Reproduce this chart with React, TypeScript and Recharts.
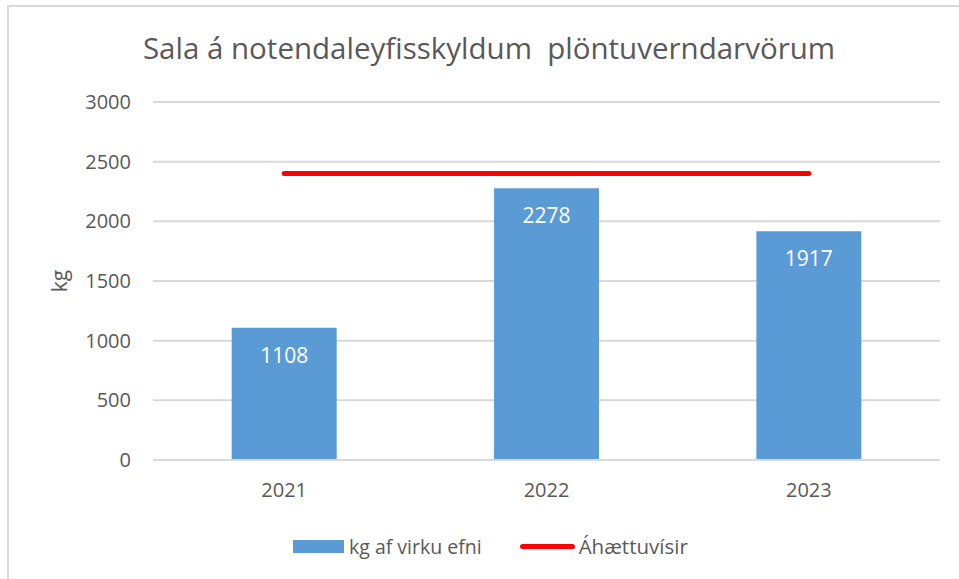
// App.tsx - Sala á notendaleyfisskyldum plöntuverndarvörum

import { ComposedChart, Bar, Line, XAxis, YAxis, CartesianGrid, LabelList } from 'recharts';

const years = ['2021', '2022', '2023'];
const activeKg = [1108, 2278, 1917];
const riskIndicator = [2400, 2400, 2400];
const yTicks = [0, 500, 1000, 1500, 2000, 2500, 3000];

const TEXT = '#595959';
const GRID = '#d9d9d9';
const BLUE = '#5b9bd5';
const RED = '#ff0000';
const FONT = '"Open Sans", sans-serif';

const chartData = years.map((year, i) => ({
  year,
  kg: activeKg[i],
  risk: riskIndicator[i],
}));

function KgLabel({ viewBox }: any) {
  const x = viewBox.x + 6;
  const y = viewBox.y + viewBox.height / 2;
  return (
    <text
      x={x}
      y={y}
      transform={`rotate(-90 ${x} ${y})`}
      textAnchor="middle"
      dominantBaseline="central"
      fill={TEXT}
      fontSize={21}
      fontFamily={FONT}
    >
      kg
    </text>
  );
}

export default function App() {
  return (
    <div style={{ position: 'absolute', left: 0, top: 0, width: 959, height: 579, background: '#fff', fontFamily: FONT }}>
      {/* chart area border */}
      <div style={{ position: 'absolute', left: 7, top: 5, width: 960, height: 580, borderTop: `2px solid ${GRID}`, borderLeft: `2px solid ${GRID}` }} />

      <div style={{ position: 'absolute', left: 0, top: 27, width: 978, textAlign: 'center', fontSize: 29.5, color: TEXT, whiteSpace: 'pre' }}>
        {'Sala á notendaleyfisskyldum  plöntuverndarvörum'}
      </div>

      <div style={{ position: 'absolute', left: 0, top: 0 }}>
        <ComposedChart width={959} height={579} data={chartData} margin={{ top: 102, right: 19, bottom: 79, left: 53 }} barCategoryGap="30%">
          <CartesianGrid vertical={false} stroke={GRID} strokeWidth={2} />
          <XAxis
            dataKey="year"
            height={40}
            axisLine={{ stroke: GRID, strokeWidth: 2 }}
            tickLine={false}
            tickSize={0}
            tickMargin={23}
            tick={{ fill: TEXT, fontSize: 20, fontFamily: FONT }}
          />
          <YAxis
            width={100}
            domain={[0, 3000]}
            ticks={yTicks}
            axisLine={false}
            tickLine={false}
            tickSize={0}
            tickMargin={22}
            tick={{ fill: TEXT, fontSize: 20, fontFamily: FONT }}
            label={<KgLabel />}
          />
          <Bar dataKey="kg" fill={BLUE} isAnimationActive={false}>
            <LabelList dataKey="kg" position="insideTop" offset={20} fill="#ffffff" fontSize={21} fontFamily={FONT} />
          </Bar>
          <Line dataKey="risk" stroke={RED} strokeWidth={5} strokeLinecap="round" dot={false} activeDot={false} isAnimationActive={false} />
        </ComposedChart>
      </div>

      {/* legend */}
      <div style={{ position: 'absolute', left: 293, top: 532, display: 'flex', alignItems: 'center', fontSize: 19.5, color: TEXT, whiteSpace: 'nowrap' }}>
        <div style={{ width: 51, height: 13, background: BLUE, marginRight: 5 }} />
        <span style={{ marginRight: 38 }}>kg af virku efni</span>
        <div style={{ width: 55, height: 5, borderRadius: 3, background: RED, marginRight: 4 }} />
        <span style={{ fontSize: 20.5 }}>Áhættuvísir</span>
      </div>
    </div>
  );
}
